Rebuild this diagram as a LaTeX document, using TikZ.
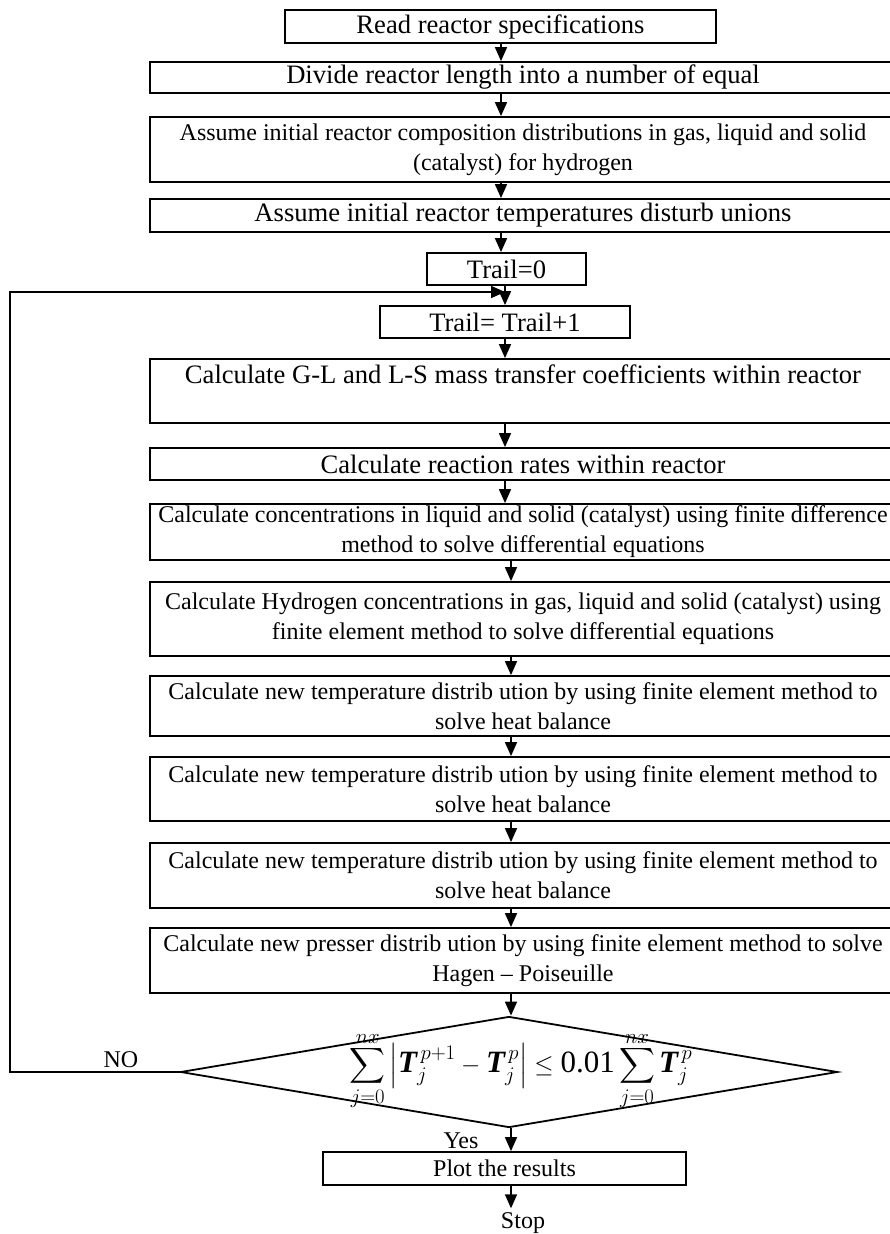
\documentclass[tikz,border=0pt]{standalone}
\usepackage{amsmath}
\usepackage{fontspec}
\setmainfont{Liberation Serif}
\usepackage{tikz}
\usetikzlibrary{arrows.meta,shapes.geometric}
\newcommand{\bT}{\text{\bfseries\itshape T}}
\newcommand{\csum}{\sum\limits_{\raisebox{2pt}[0pt][0pt]{$\scriptstyle j=0$}}^{\raisebox{-2pt}[0pt][0pt]{$\scriptstyle nx$}}}

\begin{document}
\begin{tikzpicture}[x=1pt,y=-1pt,
  every node/.style={font=\fontsize{26.6}{33}\selectfont},
  stepbox/.style={draw,line width=1.8pt,align=center,inner xsep=2pt,inner ysep=1pt},
  wide/.style={stepbox,minimum width=746pt},
  twoline/.style={wide,font=\fontsize{24}{30}\selectfont},
  cond/.style={draw,line width=1.8pt,diamond,inner sep=0pt,minimum width=657pt,minimum height=111pt},
  lbl/.style={font=\fontsize{24}{30}\selectfont,inner sep=0pt},
  ar/.style={-{Triangle[length=14pt,width=12pt]},line width=1.6pt}]
\useasboundingbox (0,0) rectangle (890,1234);
% set-up steps
\node[stepbox,minimum width=431pt,minimum height=33pt] (read) at (500.5,26.5) {Read reactor specifications};
\node[wide,minimum height=31pt] (divide) at (523,77.5) {Divide reactor length into a number of equal};
\node[twoline,minimum height=65pt] (comp) at (523,149.5) {Assume initial reactor composition distributions in gas, liquid and solid\\(catalyst) for hydrogen};
\node[wide,minimum height=33pt] (tempin) at (523,215.5) {Assume initial reactor temperatures disturb unions};
\node[stepbox,minimum width=159pt,minimum height=32pt] (trail0) at (506.5,269) {Trail=0};
\node[stepbox,minimum width=250pt,minimum height=32pt] (trail1) at (505,322) {Trail= Trail+1};
% loop body
\node[wide,minimum height=64pt] (gl) at (523,391) {Calculate G-L and L-S mass transfer coefficients within reactor\\\mbox{}};
\node[wide,minimum height=32pt] (rates) at (523,464) {Calculate reaction rates within reactor};
\node[twoline,minimum height=56pt] (conc) at (523,532) {Calculate concentrations in liquid and solid (catalyst) using finite difference\\method to solve differential equations};
\node[twoline,minimum height=74pt] (hyd) at (523,619) {Calculate Hydrogen concentrations in gas, liquid and solid (catalyst) using\\finite element method to solve differential equations};
\node[twoline,minimum height=60pt] (heat1) at (523,706) {Calculate new temperature distrib ution by using finite element method to\\solve heat balance};
\node[twoline,minimum height=64pt] (heat2) at (523,789) {Calculate new temperature distrib ution by using finite element method to\\solve heat balance};
\node[twoline,minimum height=65pt] (heat3) at (523,875.5) {Calculate new temperature distrib ution by using finite element method to\\solve heat balance};
\node[twoline,minimum height=65pt] (press) at (523,960.5) {Calculate new presser distrib ution by using finite element method to solve\\Hagen -- Poiseuille};
% convergence test
\node[cond] (check) at (509,1072) {};
\node[font=\fontsize{31}{36}\selectfont,inner sep=0pt] (crit) at (521,1071) {$\displaystyle\csum\left|\bT_{j}^{\,p+1}-\bT_{j}^{\,p}\right|\le\text{0.01}\csum\bT_{j}^{\,p}$};
\node[stepbox,font=\fontsize{24}{30}\selectfont,minimum width=363pt,minimum height=33pt] (plot) at (504.5,1168.5) {Plot the results};
\node[lbl,inner sep=4pt] (stop) at (523,1223) {Stop};
\node[lbl] (no) at (121,1060) {NO};
\node[lbl] (yes) at (461,1141) {Yes};
% connectors
\coordinate (colA) at (501,0);
\coordinate (colB) at (505,0);
\coordinate (colC) at (511,0);
\foreach \a/\b/\c in {read/divide/colA,divide/comp/colA,comp/tempin/colA,tempin/trail0/colA,
  trail0/trail1/colB,trail1/gl/colB,gl/rates/colB,rates/conc/colB,
  conc/hyd/colC,hyd/heat1/colC,heat1/heat2/colC,heat2/heat3/colC,heat3/press/colC,
  press/check/colC,check/plot/colC,plot/stop/colC}
  \draw[ar] (\a.south -| \c) -- (\b.north -| \c);
\coordinate (loopc) at (10,292);
\coordinate (loopin) at (505,292);
\draw[ar] (check.west) -| (loopc) -- (loopin);
\end{tikzpicture}
\end{document}
